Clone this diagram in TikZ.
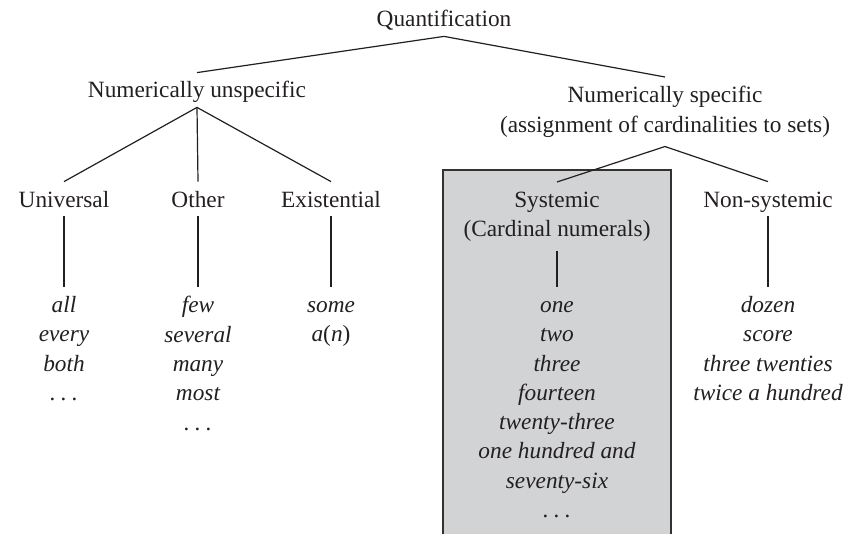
\documentclass[tikz,border=0pt]{standalone}
\usepackage{fontspec}
\setmainfont{Liberation Serif}
\definecolor{ink}{RGB}{35,31,32}
\definecolor{boxgray}{RGB}{210,211,213}
\definecolor{boxedge}{RGB}{50,50,50}
\newcommand{\topstrut}{\rule{0pt}{8pt}}
\newcommand{\spdots}{.\kern0.22em.\kern0.22em.}
\begin{document}
\begin{tikzpicture}[x=0.5pt,y=-0.5pt,
  every node/.style={text=ink, font=\fontsize{11.65}{14.65}\selectfont},
  one/.style={inner xsep=0pt, inner ysep=4.5pt, text height=8pt, text depth=0pt, anchor=base},
  ml/.style={inner xsep=0pt, inner ysep=4.5pt, align=center, anchor=north},
  lst/.style={ml, font=\fontsize{11.65}{14.65}\selectfont\itshape},
  conn/.style={draw=ink, line width=0.6pt}]
\useasboundingbox (0,0) rectangle (845,534);
% grey box behind the systemic branch
\fill[boxgray] (443,170) rectangle (671,534);
\draw[boxedge, line width=0.7pt] (443,534) -- (443,170) -- (671,170) -- (671,534);
% headings (single-line nodes: placed at baseline; multi-line: placed at north = first baseline - 25)
\node[one] (q) at (444,27) {Quantification};
\node[one] (nu) at (197,98) {Numerically unspecific};
\node[ml] (ns) at (665,77) {\topstrut Numerically specific\\(assignment of cardinalities to sets)};
\node[one] (uni) at (64,207) {Universal};
\node[one] (oth) at (198,207) {Other};
\node[one] (exi) at (331,207) {Existential};
\node[ml] (sys) at (557,182) {\topstrut Systemic\\(Cardinal numerals)};
\node[one] (non) at (768,207) {Non-systemic};
% lists
\node[lst] (luni) at (64,287) {\topstrut all\\every\\both\\\spdots};
\node[lst] (loth) at (198,287) {\topstrut few\\several\\many\\most\\\spdots};
\node[lst] (lexi) at (331,287) {\topstrut some\\a\textup{(}n\textup{)}};
\node[lst] (lsys) at (557,287) {\topstrut one\\two\\three\\fourteen\\twenty-three\\one hundred and\\seventy-six\\\spdots};
\node[lst] (lnon) at (768,287) {\topstrut dozen\\score\\three twenties\\twice a hundred};
% connectors
\draw[conn] (nu.north) -- (q.south) -- (ns.north);
\draw[conn] (uni.north) -- (nu.south) -- (exi.north);
\draw[conn] (nu.south) -- (oth.north);
\draw[conn] (sys.north) -- (ns.south) -- (non.north);
\draw[conn] (uni.south) -- (luni.north);
\draw[conn] (oth.south) -- (loth.north);
\draw[conn] (exi.south) -- (lexi.north);
\draw[conn] (sys.south) -- (lsys.north);
\draw[conn] (non.south) -- (lnon.north);
\end{tikzpicture}
\end{document}
